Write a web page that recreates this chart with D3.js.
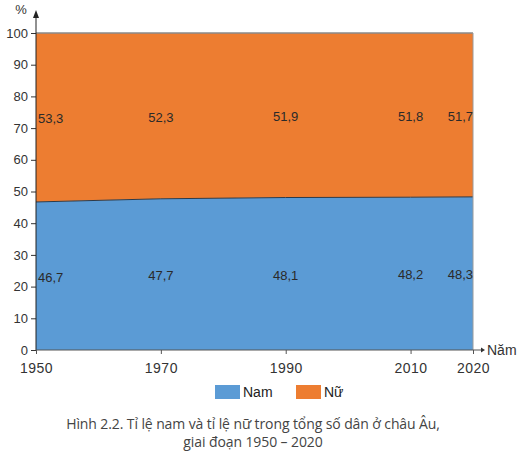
<!DOCTYPE html>
<html>
  <head>
    <meta charset="utf-8" />
    <script src="https://d3js.org/d3.v7.min.js"></script>
    <style>
      body { margin: 0; background: #fff; }
      text { font-family: "Liberation Sans", Arial, sans-serif; }
      text.caption { font-family: "Open Sans", "Noto Sans", sans-serif; }
    </style>
  </head>
  <body>
    <svg id="chart" width="529" height="464"></svg>
    <script>
      // data
      const years = [1950, 1970, 1990, 2010, 2020];
      const nam = [46.7, 47.7, 48.1, 48.2, 48.3];
      const nu = [53.3, 52.3, 51.9, 51.8, 51.7];
      const yTicks = [0, 10, 20, 30, 40, 50, 60, 70, 80, 90, 100];
      const seriesNames = ["Nam", "Nữ"];
      const colors = ["#5b9bd5", "#ed7d31"];

      const svg = d3.select("#chart");
      const margin = { top: 33, right: 56, bottom: 114, left: 36 };
      const width = 529 - margin.left - margin.right;
      const height = 464 - margin.top - margin.bottom;
      const g = svg.append("g")
        .attr("transform", "translate(" + margin.left + "," + margin.top + ")");

      const x = d3.scaleLinear().domain([1950, 2020]).range([0, width]);
      const y = d3.scaleLinear().domain([0, 100]).range([height, 0]);

      const rows = years.map((yr, i) => ({ year: yr, Nam: nam[i], "Nữ": nu[i] }));
      const stacked = d3.stack().keys(seriesNames)(rows);

      const area = d3.area()
        .x(d => x(d.data.year))
        .y0(d => y(d[0]))
        .y1(d => y(d[1]));

      g.selectAll("path.layer")
        .data(stacked)
        .join("path")
        .attr("class", "layer")
        .attr("fill", (d, i) => colors[i])
        .attr("d", area);

      // line between the two bands
      g.append("path")
        .datum(stacked[0])
        .attr("fill", "none")
        .attr("stroke", "#2b3a4a")
        .attr("stroke-width", 1)
        .attr("d", d3.line().x(d => x(d.data.year)).y(d => y(d[1])));

      // grey frame at top and right
      g.append("line")
        .attr("x1", 0).attr("x2", x(2020))
        .attr("y1", y(100)).attr("y2", y(100))
        .attr("stroke", "#8a8a8a").attr("stroke-width", 1.5);
      g.append("line")
        .attr("x1", x(2020)).attr("x2", x(2020))
        .attr("y1", y(100)).attr("y2", y(0))
        .attr("stroke", "#9a9a9a").attr("stroke-width", 1);

      // value labels in the middle of each band
      const anchorFor = i => (i === 0 ? "start" : i === years.length - 1 ? "end" : "middle");
      stacked.forEach(layer => {
        g.selectAll(null)
          .data(layer)
          .join("text")
          .attr("x", (d, i) => x(d.data.year) + (i === 0 ? 2 : 0))
          .attr("y", d => y((d[0] + d[1]) / 2))
          .attr("dy", "0.45em")
          .attr("text-anchor", (d, i) => anchorFor(i))
          .attr("font-size", 13)
          .attr("fill", "#2a2a2a")
          .text(d => d3.format(".1f")(d[1] - d[0]).replace(".", ","));
      });

      // y axis
      const yAxis = g.append("g")
        .call(d3.axisLeft(y).tickValues(yTicks).tickSize(5).tickPadding(3));
      yAxis.select(".domain").remove();
      yAxis.selectAll("line").attr("stroke", "#333");
      yAxis.selectAll("text").attr("font-size", 13).attr("fill", "#333");
      g.append("line")
        .attr("x1", 0).attr("x2", 0).attr("y1", height).attr("y2", -17)
        .attr("stroke", "#222").attr("stroke-width", 1);
      g.append("path")
        .attr("d", "M0,-23 L-3,-15 L3,-15 Z").attr("fill", "#222");
      g.append("text")
        .attr("x", -15).attr("y", -19)
        .attr("text-anchor", "middle")
        .attr("font-size", 13).attr("fill", "#333")
        .text("%");

      // x axis
      const xAxis = g.append("g")
        .attr("transform", "translate(0," + height + ")")
        .call(d3.axisBottom(x).tickValues(years).tickFormat(d3.format("d")).tickSize(4).tickPadding(9));
      xAxis.select(".domain").remove();
      xAxis.selectAll("line").attr("stroke", "#555");
      xAxis.selectAll("text").attr("font-size", 14).attr("fill", "#333")
        .attr("letter-spacing", "0.5px");
      g.append("line")
        .attr("x1", 0).attr("x2", width + 9).attr("y1", height).attr("y2", height)
        .attr("stroke", "#555").attr("stroke-width", 1);
      g.append("path")
        .attr("d", "M" + (width + 12) + "," + height + " l-4,-2.5 l0,5 Z").attr("fill", "#333");
      g.append("text")
        .attr("x", width + 14).attr("y", height).attr("dy", "0.35em")
        .attr("font-size", 14).attr("fill", "#333")
        .text("Năm");

      // legend
      const legend = svg.append("g").attr("transform", "translate(215,385)");
      const legendX = [0, 81];
      seriesNames.forEach((name, i) => {
        legend.append("rect")
          .attr("x", legendX[i]).attr("y", 0)
          .attr("width", 25).attr("height", 14)
          .attr("fill", colors[i]);
        legend.append("text")
          .attr("x", legendX[i] + 28).attr("y", 7).attr("dy", "0.35em")
          .attr("font-size", 14).attr("fill", "#222")
          .text(name);
      });

      // caption
      const caption = [
        "Hình 2.2. Tỉ lệ nam và tỉ lệ nữ trong tổng số dân ở châu Âu,",
        "giai đoạn 1950 – 2020"
      ];
      svg.selectAll("text.caption")
        .data(caption)
        .join("text")
        .attr("class", "caption")
        .attr("x", 253)
        .attr("y", (d, i) => 429 + i * 18)
        .attr("text-anchor", "middle")
        .attr("font-size", 14)
        .attr("letter-spacing", "-0.1px")
        .attr("fill", "#444")
        .text(d => d);
    </script>
  </body>
</html>
